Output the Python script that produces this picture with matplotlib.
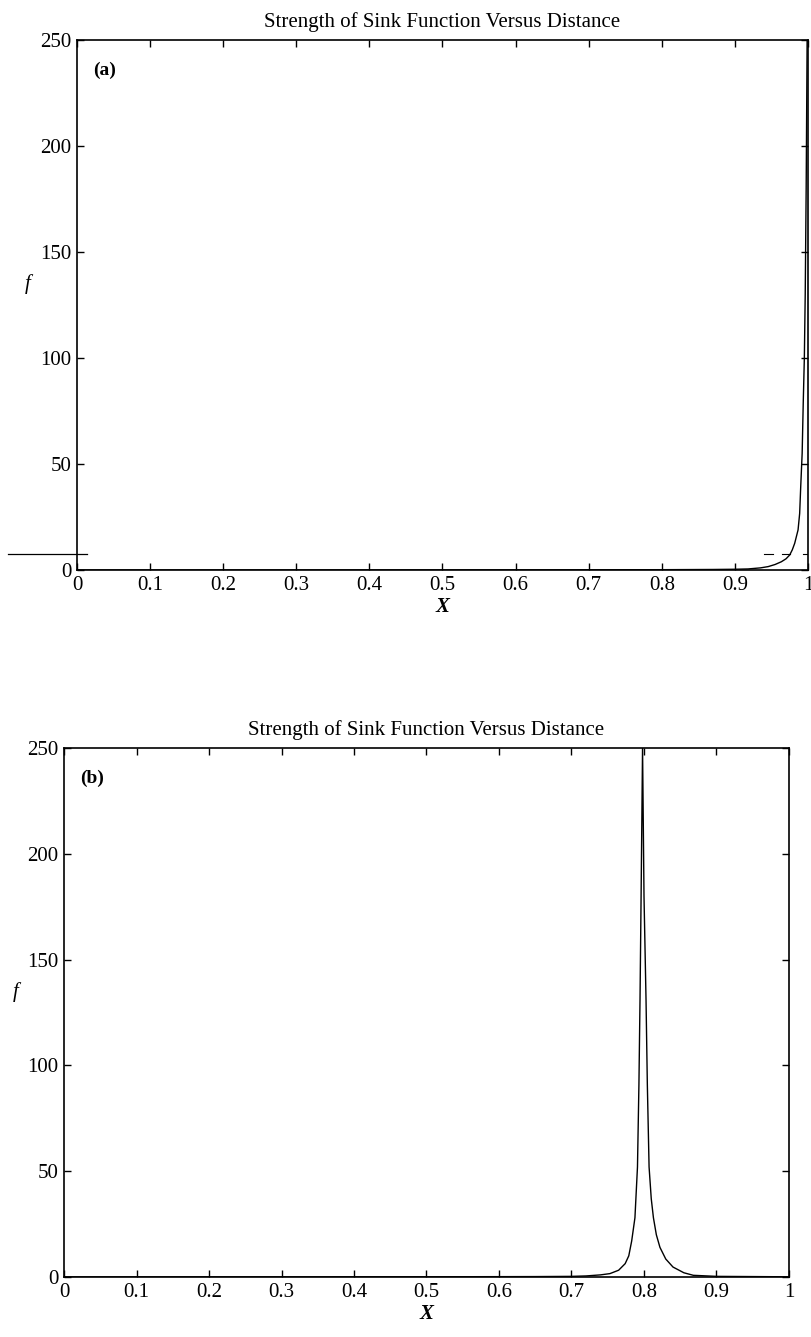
import matplotlib
matplotlib.use("Agg")
import matplotlib.pyplot as plt

plt.rcParams['font.family'] = ['Liberation Serif', 'DejaVu Serif']

title = "Strength of Sink Function Versus Distance"

x_ticks = [0, 0.1, 0.2, 0.3, 0.4, 0.5, 0.6, 0.7, 0.8, 0.9, 1]
x_ticklabels = ['0', '0.1', '0.2', '0.3', '0.4', '0.5', '0.6', '0.7', '0.8', '0.9', '1']
y_ticks = [0, 50, 100, 150, 200, 250]

# (a) sink near the right boundary
x_a = [0.0, 0.3, 0.6, 0.8, 0.87, 0.9, 0.918, 0.935, 0.9455, 0.955, 0.9636,
       0.970, 0.975, 0.9785, 0.9818, 0.9864, 0.9886, 0.990, 0.992, 0.9935,
       0.995, 0.9962, 0.9975, 0.9988]
f_a = [0.01, 0.03, 0.08, 0.15, 0.25, 0.35, 0.5, 1.0, 1.6, 2.6, 3.9,
       5.3, 7.1, 9.5, 12.6, 18.9, 26.7, 39, 55, 79,
       100, 130, 180, 250]

# (b) sink at x = 0.8
x_b = [0.0, 0.5, 0.65, 0.70, 0.72, 0.74, 0.753, 0.765, 0.774, 0.779, 0.783,
       0.7875, 0.791, 0.793, 0.7945, 0.796, 0.798, 0.800, 0.8028, 0.8046,
       0.807, 0.810, 0.813, 0.817, 0.822, 0.830, 0.840, 0.855, 0.868, 0.90, 1.0]
f_b = [0.05, 0.1, 0.2, 0.3, 0.5, 1.0, 1.6, 3.2, 6.3, 10, 17,
       28, 52, 91, 131, 180, 250, 180, 131, 91,
       52, 37, 28, 20, 14, 8.5, 4.7, 2.0, 0.8, 0.3, 0.1]

# faint dashed level left over in panel (a)
mark_level = 7.5
mark_spans_in = [(0.94, 0.952), (0.965, 0.975), (0.993, 1.0)]
mark_span_out = (-0.095, 0.013)

fig = plt.figure(figsize=(8.12, 13.37), dpi=100)
ax_a = fig.add_axes([77/812, 1 - 570/1337, 731/812, 530/1337])
ax_b = fig.add_axes([64/812, 1 - 1277/1337, 725/812, 529/1337])


def style(ax, tag):
    ax.set_xlim(0, 1)
    ax.set_ylim(0, 250)
    ax.set_xticks(x_ticks)
    ax.set_xticklabels(x_ticklabels)
    ax.set_yticks(y_ticks)
    ax.tick_params(direction='in', top=True, right=True, length=5, width=1,
                   labelsize=15, pad=4)
    for s in ax.spines.values():
        s.set_linewidth(1.2)
    ax.set_title(title, fontsize=15, pad=9)
    ax.set_xlabel('X', fontsize=15, fontweight='bold', fontstyle='italic', labelpad=2)
    ax.set_ylabel('f', fontsize=15, fontstyle='italic', rotation=0)
    ax.yaxis.set_label_coords(-0.067, 0.52)
    ax.text(0.022, 0.943, tag, transform=ax.transAxes, fontsize=14,
            fontweight='bold', va='center', ha='left')


ax_a.plot(x_a, f_a, color='black', lw=1.0)
for a, b in mark_spans_in:
    ax_a.plot([a, b], [mark_level, mark_level], color='black', lw=0.8)
ax_a.plot(list(mark_span_out), [mark_level, mark_level], color='black', lw=0.9,
          clip_on=False)
style(ax_a, '(a)')

ax_b.plot(x_b, f_b, color='black', lw=1.0)
style(ax_b, '(b)')

fig.savefig('out.png', dpi=100)
